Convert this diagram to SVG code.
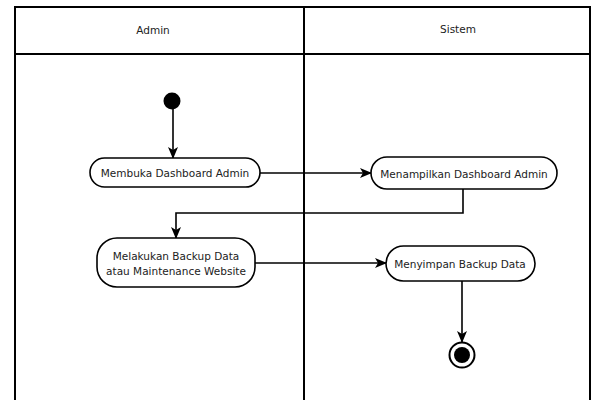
<svg xmlns="http://www.w3.org/2000/svg" width="598" height="400" viewBox="0 0 598 400">
  <style>
    .lane { fill: none; stroke: #000; stroke-width: 2; }
    .act { fill: #fff; stroke: #000; stroke-width: 1.6; }
    .lbl { font-family: "DejaVu Sans", Verdana, sans-serif; font-size: 10.5px; fill: #222; text-anchor: middle; }
    .hdr { font-family: "DejaVu Sans", Verdana, sans-serif; font-size: 10.5px; fill: #222; text-anchor: middle; }
    .edge { fill: none; stroke: #000; stroke-width: 1.6; }
  </style>
  <defs>
    <marker id="arrow" viewBox="0 0 12 10" refX="11" refY="5" markerWidth="12" markerHeight="10" markerUnits="userSpaceOnUse" orient="auto">
      <path d="M0,0 L12,5 L0,10 L3,5 Z" fill="#000"/>
    </marker>
  </defs>

  <rect width="598" height="400" fill="#fff"/>

  <!-- swimlanes -->
  <g id="lanes">
    <path class="lane" d="M15,402 V7 H590 V402"/>
    <line class="lane" x1="15" y1="54" x2="590" y2="54"/>
    <line class="lane" x1="304" y1="7" x2="304" y2="402"/>
    <text class="hdr" x="153" y="34">Admin</text>
    <text class="hdr" x="458" y="33">Sistem</text>
  </g>

  <!-- connectors -->
  <g id="connectors">
    <line class="edge" x1="173" y1="109" x2="173" y2="158" marker-end="url(#arrow)"/>
    <line class="edge" x1="260" y1="173" x2="371" y2="173" marker-end="url(#arrow)"/>
    <polyline class="edge" points="463,189 463,213 176,213 176,238" marker-end="url(#arrow)"/>
    <line class="edge" x1="255" y1="263" x2="386" y2="263" marker-end="url(#arrow)"/>
    <line class="edge" x1="462" y1="281" x2="462" y2="342" marker-end="url(#arrow)"/>
  </g>

  <g id="start">
    <circle cx="172" cy="101" r="8.5" fill="#000"/>
  </g>

  <g id="membuka-dashboard">
    <rect class="act" x="90" y="158" width="170" height="29" rx="14.5"/>
    <text class="lbl" x="175" y="176.5">Membuka Dashboard Admin</text>
  </g>

  <g id="menampilkan-dashboard">
    <rect class="act" x="371" y="157" width="186" height="32" rx="16"/>
    <text class="lbl" x="464" y="177.5">Menampilkan Dashboard Admin</text>
  </g>

  <g id="backup-maintenance">
    <rect class="act" x="97" y="238" width="158" height="49" rx="20"/>
    <text class="lbl" x="176" y="260">Melakukan Backup Data</text>
    <text class="lbl" x="176" y="275">atau Maintenance Website</text>
  </g>

  <g id="menyimpan-backup">
    <rect class="act" x="386" y="246" width="149" height="35" rx="17.5"/>
    <text class="lbl" x="460" y="267.5">Menyimpan Backup Data</text>
  </g>

  <g id="end">
    <circle cx="462" cy="355" r="12.5" fill="#fff" stroke="#000" stroke-width="2"/>
    <circle cx="462" cy="355" r="8" fill="#000"/>
  </g>
</svg>
